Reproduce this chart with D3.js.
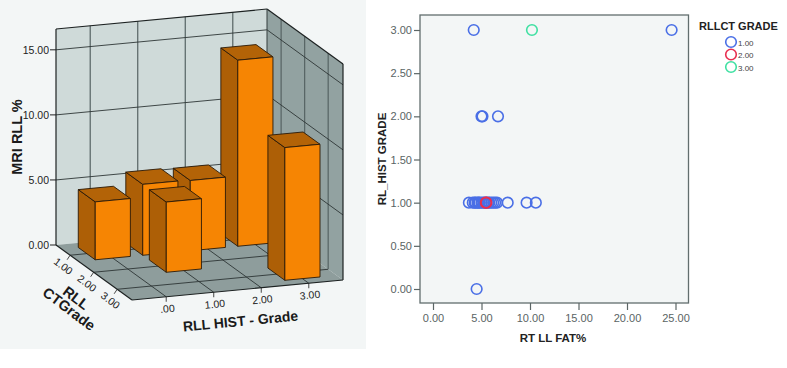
<!DOCTYPE html>
<html><head><meta charset="utf-8">
<script src="https://cdnjs.cloudflare.com/ajax/libs/d3/7.8.5/d3.min.js"></script>
<style>html,body{margin:0;padding:0;background:#fff}svg{display:block}text{font-family:"Liberation Sans",Arial,sans-serif}</style>
</head><body><svg id="c" width="787" height="368"></svg>
<script>
// ---- 3D bars data
const histGrades=[0,1,2,3];
const ctGrades=[1,2,3];
const mriTicks=[0,5,10,15];
const barHist=[0,1,2,3,1,3];
const barCt=[1,1,1,1,2,3];
const barMri=[4.45,5.45,5.4,14.3,5.4,10.2];
// ---- scatter data
const s1x=[4.2,24.6,5.0,5.1,6.7,3.7,4.1,4.3,4.4,4.6,4.7,4.8,5.0,5.2,5.3,5.5,5.7,5.8,6.0,6.2,6.4,6.6,7.7,9.65,10.6,4.5];
const s1y=[3,3,2,2,2,1,1,1,1,1,1,1,1,1,1,1,1,1,1,1,1,1,1,1,1,0];
const s2x=[5.45,5.5];
const s2y=[1,1];
const s3x=[10.2];
const s3y=[3];
const xTicks=[0,5,10,15,20,25];
const yTicks=[0,0.5,1,1.5,2,2.5,3];
const legendLabels=["1.00","2.00","3.00"];
const fmt=d3.format(".2f");

const svg=d3.select("#c");
svg.append("rect").attr("x",0).attr("y",0).attr("width",366).attr("height",349).attr("fill","#f3f6f6");

// oblique projection: three independent scales
const hPx=d3.scaleLinear().domain([-0.72,3.72]).range([0,211]);
const hPy=d3.scaleLinear().domain([-0.72,3.72]).range([0,-20]);
const cPx=d3.scaleLinear().domain([0.4,3.63]).range([0,76]);
const cPy=d3.scaleLinear().domain([0.4,3.63]).range([0,55]);
const vPy=d3.scaleLinear().domain([0,16.6]).range([0,-216]);
const X0=56,Y0=245,hMin=-0.72,hMax=3.72,cMin=0.4,cMax=3.63,vMax=16.6;
const P=(h,c,v)=>[X0+hPx(h)+cPx(c),Y0+hPy(h)+cPy(c)+vPy(v)];
const poly=(pts,fill,stroke,sw)=>g3.append("polygon").attr("points",pts.map(p=>p.join(",")).join(" ")).attr("fill",fill).attr("stroke",stroke||"none").attr("stroke-width",sw||0).attr("stroke-linejoin","round");
const seg=(a,b,col,w)=>g3.append("line").attr("x1",a[0]).attr("y1",a[1]).attr("x2",b[0]).attr("y2",b[1]).attr("stroke",col).attr("stroke-width",w);
const g3=svg.append("g");

// walls
poly([P(hMin,cMin,0),P(hMax,cMin,0),P(hMax,cMin,vMax),P(hMin,cMin,vMax)],"#cfdad9");
poly([P(hMax,cMin,0),P(hMax,cMax,0),P(hMax,cMax,vMax),P(hMax,cMin,vMax)],"#92a2a1");
poly([P(hMin,cMin,0),P(hMax,cMin,0),P(hMax,cMax,0),P(hMin,cMax,0)],"#8e9d9c");
// grid
histGrades.forEach(h=>{
  seg(P(h,cMin,0),P(h,cMin,vMax),"#566363",1.2);
  seg(P(h,cMin,0),P(h,cMax,0),"#2e3636",.9);
  seg(P(h,cMax,0),[P(h,cMax,0)[0],P(h,cMax,0)[1]+5],"#333",.9);
});
ctGrades.forEach(c=>{
  seg(P(hMax,c,0),P(hMax,c,vMax),"#566363",1.2);
  seg(P(hMin,c,0),P(hMax,c,0),"#2e3636",.9);
  const p=P(hMin,c,0);
  seg(p,[p[0]-3,p[1]+4.5],"#333",.9);
});
mriTicks.forEach(v=>{
  if(v>0){seg(P(hMin,cMin,v),P(hMax,cMin,v),"#2e3636",.9);
  seg(P(hMax,cMin,v),P(hMax,cMax,v),"#2e3636",.9);}
  const p=P(hMin,cMin,v);
  seg(p,[p[0]-6,p[1]],"#222",1);
  g3.append("text").attr("x",p[0]-7).attr("y",p[1]+4).attr("text-anchor","end").attr("font-size",10.5).attr("fill","#222").text(fmt(v));
});
// frame edges
[[P(hMin,cMin,0),P(hMin,cMin,vMax)],[P(hMin,cMin,vMax),P(hMax,cMin,vMax)],[P(hMax,cMin,vMax),P(hMax,cMax,vMax)],[P(hMax,cMax,vMax),P(hMax,cMax,0)],[P(hMax,cMax,0),P(hMin,cMax,0)],[P(hMin,cMax,0),P(hMin,cMin,0)],[P(hMax,cMin,vMax),P(hMax,cMin,0)]].forEach((e,i)=>seg(e[0],e[1],i==6?"#333c3c":"#1d2222",i==6?1:1.2));

// bars, back to front
const hw=0.37,cw=0.36;
d3.range(barHist.length).sort((a,b)=>barCt[a]-barCt[b]||barHist[b]-barHist[a]).forEach(i=>{
  const h=barHist[i],c=barCt[i],v=barMri[i];
  const a=h-hw,b=h+hw,n=c-cw,f=c+cw;
  poly([P(a,f,0),P(a,n,0),P(a,n,v),P(a,f,v)],"#ad5f06","#2a1a08",.9);
  poly([P(a,f,v),P(a,n,v),P(b,n,v),P(b,f,v)],"#b36307","#2a1a08",.9);
  poly([P(a,f,0),P(b,f,0),P(b,f,v),P(a,f,v)],"#f68503","#2a1a08",.9);
});

// 3D tick labels and titles
const rotText=(x,y,ang,size,weight,str,col)=>g3.append("text").attr("transform",`translate(${x},${y}) rotate(${ang})`).attr("text-anchor","middle").attr("font-size",size).attr("font-weight",weight).attr("fill",col).text(str);
histGrades.forEach(h=>{const p=P(h,cMax,0);rotText(p[0]+1.5,p[1]+15.5,-5,10.5,"normal",h==0?".00":fmt(h),"#222");});
ctGrades.forEach(c=>{const p=P(hMin,c,0);rotText(p[0]-9,p[1]+14,37,10.5,"normal",fmt(c),"#222");});
rotText(241,326,-5.5,14,"bold","RLL HIST - Grade","#1a1a1a");
rotText(73,302,37,14.5,"bold","RLL","#1a1a1a");
rotText(66,313,37,14.5,"bold","CTGrade","#1a1a1a");
rotText(22,137,-90,14.5,"bold","MRI RLL %","#1a1a1a");

// ---- scatter
const x=d3.scaleLinear().domain([0,25]).range([433,675.5]);
const y=d3.scaleLinear().domain([0,3]).range([289,30]);
const gs=svg.append("g");
gs.append("rect").attr("x",420).attr("y",15).attr("width",268.5).attr("height",288).attr("fill","#f3f6f6").attr("stroke","#626e6e").attr("stroke-width",1.3);
const styleAxis=g=>{g.select(".domain").remove();g.selectAll("line").attr("stroke","#5c6666").attr("stroke-width",1.2);g.selectAll("text").attr("font-size",11).attr("fill","#5a6464").attr("font-family","Liberation Sans");};
gs.append("g").attr("transform","translate(0,303)").call(d3.axisBottom(x).tickValues(xTicks).tickFormat(fmt).tickSize(7).tickPadding(4)).call(styleAxis);
gs.append("g").attr("transform","translate(420,0)").call(d3.axisLeft(y).tickValues(yTicks).tickFormat(fmt).tickSize(6).tickPadding(2)).call(styleAxis);
gs.append("text").attr("x",553).attr("y",342).attr("text-anchor","middle").attr("font-size",11.5).attr("font-weight","bold").attr("fill","#222").text("RT LL FAT%");
gs.append("text").attr("transform","translate(386,159) rotate(-90)").attr("text-anchor","middle").attr("font-size",11.5).attr("font-weight","bold").attr("fill","#222").text("RL_HIST GRADE");
const colors=["#4a6fe6","#e82f50","#3fe0a2"];
const dots=(xs,ys,col)=>gs.append("g").selectAll("circle").data(xs).join("circle").attr("cx",d=>x(d)).attr("cy",(d,i)=>y(ys[i])).attr("r",5.3).attr("fill","none").attr("stroke",col).attr("stroke-width",1.6);
dots(s1x,s1y,colors[0]);dots(s2x,s2y,colors[1]);dots(s3x,s3y,colors[2]);
// legend
const leg=svg.append("g");
leg.append("text").attr("x",699).attr("y",30).attr("font-size",11).attr("font-weight","bold").attr("fill","#222").text("RLLCT GRADE");
const ly=d3.scalePoint().domain(legendLabels).range([42,67]);
legendLabels.forEach((l,i)=>{
  leg.append("circle").attr("cx",731).attr("cy",ly(l)).attr("r",5.3).attr("fill","none").attr("stroke",colors[i]).attr("stroke-width",1.6);
  leg.append("text").attr("x",738).attr("y",ly(l)+3.5).attr("font-size",8).attr("fill","#444").text(l);
});
</script></body></html>
